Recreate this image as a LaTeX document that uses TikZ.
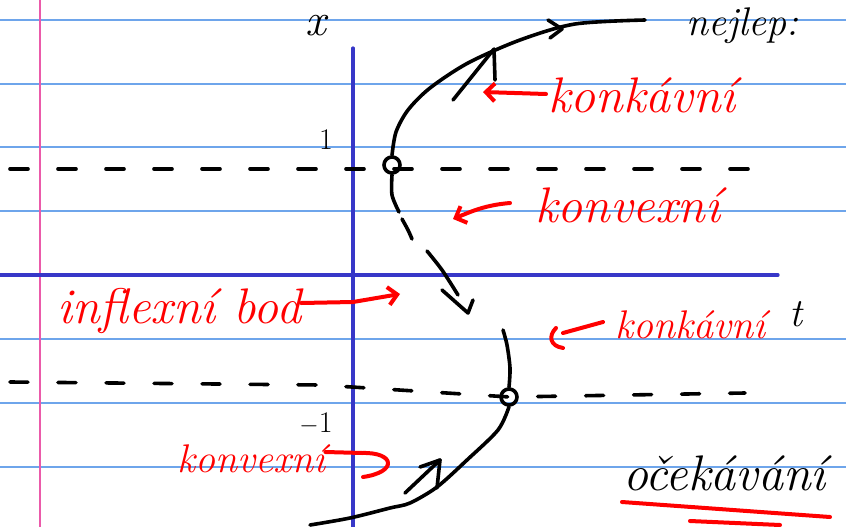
\documentclass[tikz,border=0pt]{standalone}
\usepackage{fontspec}
\usetikzlibrary{arrows.meta}
\definecolor{ruleblue}{RGB}{110,165,235}
\definecolor{axisblue}{RGB}{55,55,200}
\definecolor{marginpink}{RGB}{235,90,170}
\definecolor{inkred}{RGB}{255,0,0}
\begin{document}
\begin{tikzpicture}[x=1pt,y=-1pt, line cap=round, line join=round,
  ruleline/.style={ruleblue, line width=1.2pt},
  axisline/.style={axisblue, line width=3.2pt},
  pen/.style={black, line width=3.6pt},
  redpen/.style={inkred, line width=4pt},
  dashline/.style={pen, dash pattern=on 18pt off 30pt},
  redlabel/.style={inkred, font=\fontsize{50}{54}\selectfont\itshape, inner sep=0pt, anchor=base west},
  blacklabel/.style={font=\fontsize{46}{50}\selectfont\itshape, inner sep=0pt},
  dotmark/.style={circle, draw, pen, minimum size=16pt, inner sep=0pt},
  redarrow/.style={redpen, -{Straight Barb[length=9pt,width=18pt,line width=4pt]}}]
\useasboundingbox (0,0) rectangle (846,527);
\fill[white] (0,0) rectangle (846,527);
% ruled paper
\foreach \yy in {20,84,147,211,339,403,467} \draw[ruleline] (0,\yy) -- (846,\yy);
\draw[marginpink, line width=1.5pt] (40,0) -- (40,527);
% axes
\draw[axisline] (0,275) -- (778,275);
\draw[axisline] (353,48) -- (353,527);
% axis labels
\node[blacklabel] (xlab) at (316,26) {x};
\node[font=\fontsize{30}{32}\selectfont, inner sep=0pt] (one) at (326,140) {1};
\node[font=\fontsize{30}{32}\selectfont, inner sep=0pt] (mone) at (316,424) {$-$1};
\node[font=\fontsize{40}{44}\selectfont\itshape, inner sep=0pt] (tlab) at (796,314) {t};
% dashed levels
\draw[dashline] (10,169) -- (760,169);
\draw[dashline] (10,382) -- (320,385) -- (510,397) -- (745,393);
% inflection points
\node[dotmark] (p1) at (392,165) {};
\node[dotmark] (p2) at (509,397) {};
% curve, upper part
\draw[pen] plot[smooth] coordinates {(p1.north) (396,132) (408,110) (430,88) (468,63) (520,40) (575,24) (645,20)};
\draw[pen] (548,20) -- (562,29) -- (550,38);
\draw[pen] (453,100) -- (494,49) -- (495,80);
% curve, middle part
\draw[pen] plot[smooth] coordinates {(p1.south) (392,195) (399,212)};
\draw[pen] plot[smooth] coordinates {(402,219) (408,230) (412,239)};
\draw[pen] plot[smooth] coordinates {(427,251) (442,270) (458,295)};
\draw[pen] (442,290) -- (468,313) -- (473,300);
% curve, lower part
\draw[pen] plot[smooth] coordinates {(503,330) (507,345) (510,368) (p2.north)};
\draw[pen] plot[smooth] coordinates {(p2.south) (498,430) (467,460) (437,487) (410,503) (390,508) (350,518) (310,525)};
\draw[pen] (405,493) -- (440,460) -- (437,488);
\draw[pen] (420,467) -- (440,460);
% red annotations
\node[redlabel] (konk1) at (548,112) {konkávní};
\coordinate (k1tip) at (483,92);
\draw[redarrow] (konk1.west |- 0,94) ++(-2,0) -- (k1tip);
\node[redlabel] (konv1) at (535,222) {konvexní};
\coordinate (v1tip) at (453,219);
\draw[redarrow] (510,203) .. controls (485,205) and (470,212) .. (v1tip);
\node[redlabel] (infl) at (57,323) {inflexní bod};
\coordinate (itip) at (400,294);
\draw[redarrow] (infl.east |- 0,303) -- (353,302) -- (itip);
\node[redlabel, font=\fontsize{40}{44}\selectfont\itshape] (konk2) at (615,338) {konkávní};
\coordinate (k2tip) at (563,333);
\draw[redpen] (603,322) -- (k2tip);
\draw[redpen] (556,328) .. controls (548,336) and (550,346) .. (563,348);
\node[redlabel, font=\fontsize{40}{44}\selectfont\itshape] (konv2) at (177,472) {konvexní};
\draw[redpen] (konv2.east |- 0,452) -- (362,453) .. controls (395,452) and (398,472) .. (363,477);
% black notes
\node[blacklabel, font=\fontsize{40}{44}\selectfont\itshape, anchor=base west] (best) at (686,36) {nejlep:};
\node[blacklabel, font=\fontsize{50}{54}\selectfont\itshape, anchor=base west] (expect) at (623,490) {očekávání};
\draw[redpen] (622,502) -- (830,517);
\draw[redpen] (690,521) -- (780,525);
\end{tikzpicture}
\end{document}
